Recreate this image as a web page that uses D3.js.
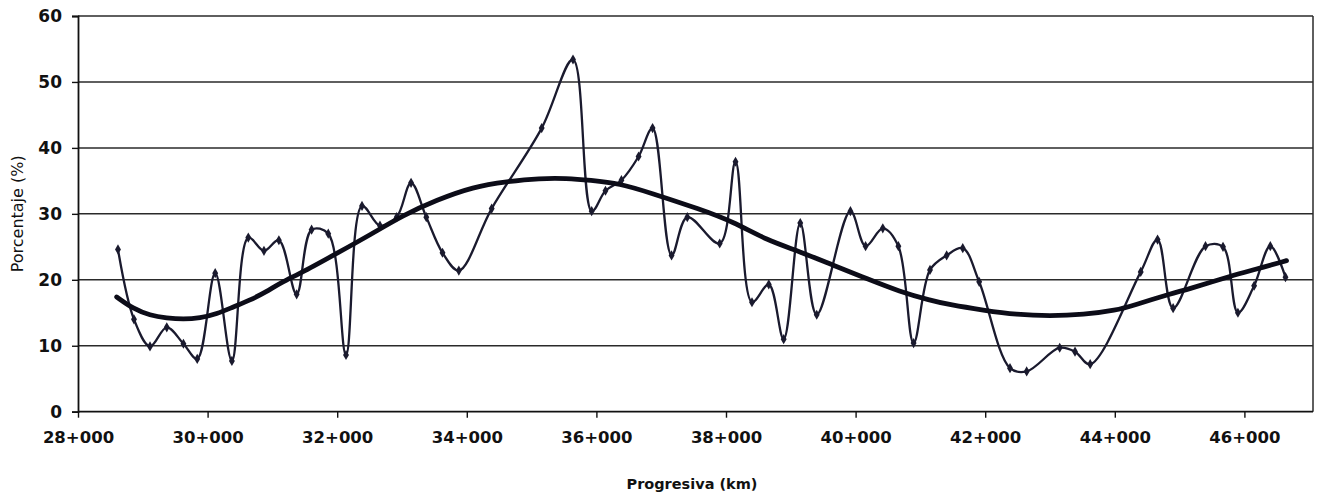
<!DOCTYPE html>
<html>
<head>
<meta charset="utf-8">
<script src="https://cdn.jsdelivr.net/npm/d3@7"></script>
<style>
  html, body { margin: 0; padding: 0; background: #fff; }
  svg { display: block; }
</style>
</head>
<body>
<svg id="chart" width="1324" height="499"></svg>
<script>
// Progresiva (km) of each sampled point
const progresiva = [28.617, 28.864, 29.111, 29.37, 29.627, 29.84, 30.117, 30.375, 30.628, 30.87,
  31.1, 31.374, 31.605, 31.862, 32.136, 32.383, 32.66, 32.918, 33.14, 33.375,
  33.625, 33.877, 34.384, 35.156, 35.639, 35.927, 36.14, 36.386, 36.651, 36.867,
  37.16, 37.403, 37.903, 38.147, 38.401, 38.66, 38.89, 39.146, 39.4, 39.92,
  40.154, 40.42, 40.66, 40.895, 41.148, 41.405, 41.654, 41.907, 42.383, 42.64,
  43.15, 43.386, 43.62, 44.4, 44.66, 44.9, 45.4, 45.67, 45.9, 46.15,
  46.4, 46.634];
// Porcentaje (%) at each point
const porcentaje = [24.6, 14.0, 9.9, 12.8, 10.3, 8.0, 21.0, 7.7, 26.4, 24.4,
  26.0, 17.8, 27.6, 27.0, 8.6, 31.2, 28.2, 29.5, 34.7, 29.5,
  24.1, 21.4, 30.8, 43.0, 53.4, 30.4, 33.5, 35.1, 38.7, 43.0,
  23.7, 29.5, 25.5, 37.9, 16.6, 19.3, 11.0, 28.6, 14.7, 30.4,
  25.1, 27.8, 25.1, 10.4, 21.5, 23.7, 24.8, 19.7, 6.6, 6.1,
  9.7, 9.1, 7.2, 21.2, 26.1, 15.7, 25.1, 25.0, 15.0, 19.1,
  25.1, 20.4];
// Trend curve
const trendX = [28.597, 28.853, 29.111, 29.369, 29.625, 29.883, 30.14, 30.397, 30.654, 30.912,
  31.117, 31.477, 31.992, 32.506, 33.02, 33.535, 34.1, 34.616, 35.13, 35.54,
  35.90, 36.364, 36.827, 37.6, 38.113, 38.63, 39.14, 39.656, 40.17, 40.685,
  41.148, 41.457, 41.97, 42.486, 43.0, 43.514, 44.03, 44.28, 44.9, 45.11,
  45.83, 46.14, 46.65];
const trendY = [17.4, 15.6, 14.6, 14.2, 14.0, 14.2, 14.8, 15.9, 16.9, 18.2,
  19.5, 21.2, 24.0, 26.8, 29.8, 32.1, 34.1, 34.9, 35.4, 35.4,
  35.1, 34.6, 33.2, 30.7, 28.8, 26.0, 24.3, 22.2, 20.2, 18.2,
  16.9, 16.2, 15.4, 14.7, 14.5, 14.7, 15.4, 16.1, 18.0, 18.5,
  20.7, 21.5, 22.9];
const xTickValues = [28, 30, 32, 34, 36, 38, 40, 42, 44, 46];
const xTickLabels = ["28+000", "30+000", "32+000", "34+000", "36+000", "38+000", "40+000", "42+000", "44+000", "46+000"];
const yTickValues = [0, 10, 20, 30, 40, 50, 60];

(function () {
const svg = d3.select("#chart");
const mLeft = 78, mRight = 1313, mTop = 16, mBottom = 411.7;

const x = d3.scaleLinear().domain([28, 28 + (mRight - mLeft) / 64.8]).range([mLeft, mRight]);
const y = d3.scaleLinear().domain([0, 60]).range([mBottom, mTop]);

const ink = "#1a1a2e";
const font = "DejaVu Sans, Verdana, sans-serif";

// gridlines
svg.append("g")
  .selectAll("line")
  .data(yTickValues.filter(v => v > 0))
  .join("line")
  .attr("x1", mLeft).attr("x2", mRight)
  .attr("y1", d => y(d)).attr("y2", d => y(d))
  .attr("stroke", "#2a2a2a").attr("stroke-width", 1.5);

// right frame
svg.append("line")
  .attr("x1", mRight).attr("x2", mRight).attr("y1", mTop).attr("y2", mBottom)
  .attr("stroke", "#2a2a2a").attr("stroke-width", 1.5);

// y axis
const yAxis = svg.append("g")
  .attr("transform", `translate(${mLeft},0)`)
  .call(d3.axisLeft(y).tickValues(yTickValues).tickSize(6).tickPadding(10).tickFormat(d3.format("d")));
yAxis.select(".domain").attr("stroke", "#111").attr("stroke-width", 1.8);
yAxis.selectAll(".tick line").attr("stroke", "#111").attr("stroke-width", 1.4);
yAxis.selectAll(".tick text")
  .attr("font-family", font).attr("font-size", 17).attr("font-weight", "bold").attr("fill", "#111");

// x axis
const xAxis = svg.append("g")
  .attr("transform", `translate(0,${mBottom})`)
  .call(d3.axisBottom(x).tickValues(xTickValues).tickSize(6).tickPadding(14)
    .tickFormat((d, i) => xTickLabels[i]));
xAxis.select(".domain").attr("stroke", "#111").attr("stroke-width", 1.8)
  .attr("d", `M${mLeft},0H${mRight}`);
xAxis.selectAll(".tick line").attr("stroke", "#111").attr("stroke-width", 1.4);
xAxis.selectAll(".tick text")
  .attr("font-family", font).attr("font-size", 16.5).attr("font-weight", "bold").attr("fill", "#111");

// axis titles
svg.append("text")
  .attr("transform", `translate(23,${(mTop + mBottom) / 2}) rotate(-90)`)
  .attr("text-anchor", "middle")
  .attr("font-family", font).attr("font-size", 16).attr("fill", "#111")
  .text("Porcentaje (%)");
svg.append("text")
  .attr("x", 692).attr("y", 489)
  .attr("text-anchor", "middle")
  .attr("font-family", font).attr("font-size", 14.5).attr("font-weight", "bold").attr("fill", "#111")
  .text("Progresiva (km)");

// data series
const pts = progresiva.map((d, i) => [d, porcentaje[i]]);
const line = d3.line().x(d => x(d[0])).y(d => y(d[1])).curve(d3.curveCatmullRom.alpha(0.5));
svg.append("path")
  .attr("d", line(pts))
  .attr("fill", "none").attr("stroke", ink).attr("stroke-width", 2.3);

svg.append("g")
  .selectAll("path")
  .data(pts)
  .join("path")
  .attr("transform", d => `translate(${x(d[0])},${y(d[1])})`)
  .attr("d", d3.symbol().type(d3.symbolDiamond).size(30))
  .attr("fill", ink);

// trend
const tpts = trendX.map((d, i) => [d, trendY[i]]);
const tline = d3.line().x(d => x(d[0])).y(d => y(d[1])).curve(d3.curveBasis);
svg.append("path")
  .attr("d", tline(tpts))
  .attr("fill", "none").attr("stroke", "#0c0c18").attr("stroke-width", 4.8)
  .attr("stroke-linecap", "round");
})();
</script>
</body>
</html>
